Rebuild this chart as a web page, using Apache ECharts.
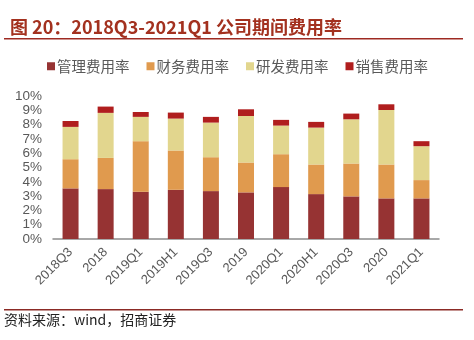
<!DOCTYPE html>
<html><head><meta charset="utf-8">
<script src="https://cdn.jsdelivr.net/npm/echarts@6/dist/echarts.min.js"></script>
<style>html,body{margin:0;padding:0;background:#fff}#c{width:474px;height:340px}</style>
</head><body><div id="c"></div>
<script>
const categories = ['2018Q3','2018','2019Q1','2019H1','2019Q3','2019','2020Q1','2020H1','2020Q3','2020','2021Q1'];
const seriesNames = ['管理费用率','财务费用率','研发费用率','销售费用率'];
const adminRate = [3.54,3.49,3.30,3.44,3.35,3.26,3.63,3.14,2.98,2.84,2.84];
const financeRate = [2.04,2.18,3.54,2.75,2.37,2.09,2.30,2.07,2.30,2.37,1.28];
const rdRate = [2.26,3.15,1.70,2.23,2.42,3.25,2.00,2.58,3.09,3.81,2.37];
const salesRate = [0.41,0.44,0.34,0.42,0.40,0.47,0.40,0.40,0.40,0.40,0.35];
const colors = ['#963333','#E09A4E','#E2D68E','#B01E1E'];
const titleText = '图 20：2018Q3-2021Q1 公司期间费用率';
const sourceText = '资料来源：wind，招商证券';

const chart = echarts.init(document.getElementById('c'), null, {renderer:'canvas'});
const dataSets = [adminRate, financeRate, rdRate, salesRate];
chart.setOption({
  animation:false,
  color: colors,
  title:{text:titleText, left:5, top:13, textStyle:{fontSize:18, fontWeight:'bold', color:'#A3311F', fontFamily:'Noto Sans CJK SC'}},
  legend:{left:42, top:54, itemWidth:8, itemHeight:8, itemGap:17, icon:'rect',
    textStyle:{fontSize:14.5, color:'#595959', fontFamily:'Noto Sans CJK SC', padding:[0,0,0,-3]},
    data: seriesNames},
  grid:{left:53, right:35, top:96, bottom:101, containLabel:false},
  xAxis:{type:'category', data:categories,
    axisLine:{lineStyle:{color:'#8c8c8c', width:1.5}},
    axisTick:{inside:true, length:4, lineStyle:{color:'#8c8c8c'}},
    axisLabel:{rotate:45, fontSize:13, color:'#595959', margin:11, interval:0, fontFamily:'Liberation Sans'}},
  yAxis:{type:'value', min:0, max:10, interval:1,
    axisLine:{show:false}, axisTick:{show:false}, splitLine:{show:false},
    axisLabel:{formatter:'{value}%', fontSize:13.5, color:'#595959', margin:11, fontFamily:'Liberation Sans'}},
  series: seriesNames.map((n,i)=>({name:n, type:'bar', stack:'total', barWidth:16, data:dataSets[i]})),
  graphic:[
    {type:'rect', shape:{x:4,y:38,width:459,height:1.5}, style:{fill:'#9E2A22'}},
    {type:'rect', shape:{x:4,y:309,width:459,height:1.5}, style:{fill:'#8B2A25'}},
    {type:'text', left:4, top:313, style:{text:sourceText, fontSize:14, fill:'#222', fontFamily:'Noto Sans CJK SC'}}
  ]
});
</script></body></html>
